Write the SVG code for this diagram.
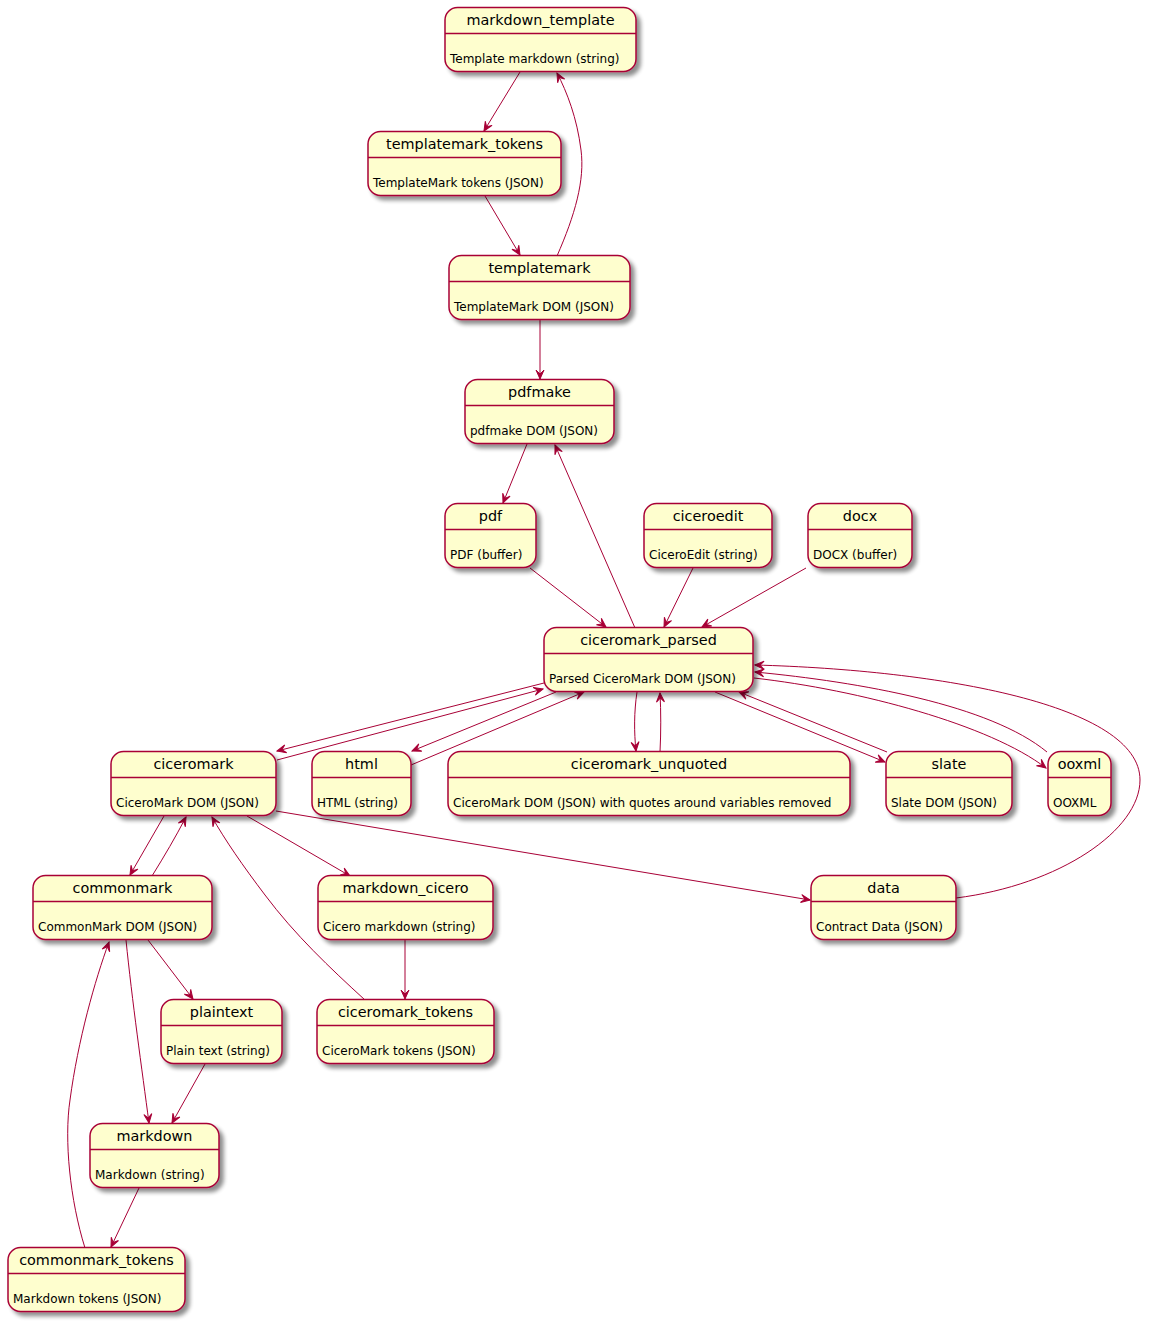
<svg xmlns="http://www.w3.org/2000/svg" width="1153" height="1324" viewBox="0 0 1153 1324">
<style>
.box{fill:#FEFECE;stroke:#A80036;stroke-width:1.5;filter:url(#sh)}
.sep{stroke:#A80036;stroke-width:1.5}
.t{font-family:"DejaVu Sans",Verdana,sans-serif;font-size:14.4px;fill:#000;text-anchor:middle}
.b{font-family:"DejaVu Sans",Verdana,sans-serif;font-size:12px;fill:#000}
.e{fill:none;stroke:#A80036;stroke-width:1;marker-end:url(#ah)}
</style>
<defs>
<filter id="sh" x="-20%" y="-20%" width="150%" height="160%">
<feGaussianBlur in="SourceAlpha" stdDeviation="2"/>
<feOffset dx="4" dy="4" result="o"/>
<feComponentTransfer><feFuncA type="linear" slope="0.45"/></feComponentTransfer>
<feMerge><feMergeNode/><feMergeNode in="SourceGraphic"/></feMerge>
</filter>
<marker id="ah" markerUnits="userSpaceOnUse" viewBox="-10 -5 11 10" refX="0" refY="0" markerWidth="11" markerHeight="10" orient="auto">
<path d="M0,0 L-9,-4 L-5,0 L-9,4 Z" fill="#A80036" stroke="#A80036" stroke-width="1"/>
</marker>
</defs>
<rect width="1153" height="1324" fill="#FFFFFF"/>

<g id="connectors">
<path class="e" d="M520,72 L484,131"/>
<path class="e" d="M485,196 L520,255"/>
<path class="e" d="M557,256 C575,215 585,180 581,150 C577,118 567,92 557,73"/>
<path class="e" d="M540,320 L540,379"/>
<path class="e" d="M527,444 L503,503"/>
<path class="e" d="M635,628 L555,445"/>
<path class="e" d="M530,568 L606,627"/>
<path class="e" d="M693,568 L664,627"/>
<path class="e" d="M806,568 L702,627"/>
<path class="e" d="M544,683 L277,751"/>
<path class="e" d="M277,760 L543,689"/>
<path class="e" d="M556,692 L412,751"/>
<path class="e" d="M411,765 L584,692"/>
<path class="e" d="M637,692 C634,712 634,732 636,751"/>
<path class="e" d="M660,752 C661,732 661,712 660,693"/>
<path class="e" d="M715,692 L885,762"/>
<path class="e" d="M887,752 L739,692"/>
<path class="e" d="M754,678 C860,690 990,725 1046,768"/>
<path class="e" d="M1047,752 C990,705 860,682 755,672"/>
<path class="e" d="M956,898 C1060,885 1140,830 1140,780 C1140,705 940,670 755,665"/>
<path class="e" d="M164,816 L130,875"/>
<path class="e" d="M152,876 C165,855 175,838 186,817"/>
<path class="e" d="M365,1000 C330,968 295,935 265,895 C243,866 225,840 212,817"/>
<path class="e" d="M247,816 L350,876"/>
<path class="e" d="M276,811 L810,900"/>
<path class="e" d="M405,940 L405,999"/>
<path class="e" d="M148,940 L193,999"/>
<path class="e" d="M126,940 C132,1000 142,1070 149,1123"/>
<path class="e" d="M205,1064 L172,1123"/>
<path class="e" d="M139,1188 L111,1247"/>
<path class="e" d="M85,1248 C70,1200 64,1140 70,1100 C78,1040 95,980 109,942"/>
</g>

<g id="markdown_template"><rect class="box" x="445" y="7.5" width="191" height="64" rx="12.5"/><line class="sep" x1="445" y1="33.5" x2="636" y2="33.5"/><text class="t" x="540.5" y="25">markdown_template</text><text class="b" x="450" y="63">Template markdown (string)</text></g>
<g id="templatemark_tokens"><rect class="box" x="368" y="131.5" width="193" height="64" rx="12.5"/><line class="sep" x1="368" y1="157.5" x2="561" y2="157.5"/><text class="t" x="464.5" y="149">templatemark_tokens</text><text class="b" x="373" y="187">TemplateMark tokens (JSON)</text></g>
<g id="templatemark"><rect class="box" x="449" y="255.5" width="181" height="64" rx="12.5"/><line class="sep" x1="449" y1="281.5" x2="630" y2="281.5"/><text class="t" x="539.5" y="273">templatemark</text><text class="b" x="454" y="311">TemplateMark DOM (JSON)</text></g>
<g id="pdfmake"><rect class="box" x="465" y="379.5" width="149" height="64" rx="12.5"/><line class="sep" x1="465" y1="405.5" x2="614" y2="405.5"/><text class="t" x="539.5" y="397">pdfmake</text><text class="b" x="470" y="435">pdfmake DOM (JSON)</text></g>
<g id="pdf"><rect class="box" x="445" y="503.5" width="91" height="64" rx="12.5"/><line class="sep" x1="445" y1="529.5" x2="536" y2="529.5"/><text class="t" x="490.5" y="521">pdf</text><text class="b" x="450" y="559">PDF (buffer)</text></g>
<g id="ciceroedit"><rect class="box" x="644" y="503.5" width="128" height="64" rx="12.5"/><line class="sep" x1="644" y1="529.5" x2="772" y2="529.5"/><text class="t" x="708" y="521">ciceroedit</text><text class="b" x="649" y="559">CiceroEdit (string)</text></g>
<g id="docx"><rect class="box" x="808" y="503.5" width="104" height="64" rx="12.5"/><line class="sep" x1="808" y1="529.5" x2="912" y2="529.5"/><text class="t" x="860" y="521">docx</text><text class="b" x="813" y="559">DOCX (buffer)</text></g>
<g id="ciceromark_parsed"><rect class="box" x="544" y="627.5" width="209" height="64" rx="12.5"/><line class="sep" x1="544" y1="653.5" x2="753" y2="653.5"/><text class="t" x="648.5" y="645">ciceromark_parsed</text><text class="b" x="549" y="683">Parsed CiceroMark DOM (JSON)</text></g>
<g id="ciceromark"><rect class="box" x="111" y="751.5" width="165" height="64" rx="12.5"/><line class="sep" x1="111" y1="777.5" x2="276" y2="777.5"/><text class="t" x="193.5" y="769">ciceromark</text><text class="b" x="116" y="807">CiceroMark DOM (JSON)</text></g>
<g id="html"><rect class="box" x="312" y="751.5" width="99" height="64" rx="12.5"/><line class="sep" x1="312" y1="777.5" x2="411" y2="777.5"/><text class="t" x="361.5" y="769">html</text><text class="b" x="317" y="807">HTML (string)</text></g>
<g id="ciceromark_unquoted"><rect class="box" x="448" y="751.5" width="402" height="64" rx="12.5"/><line class="sep" x1="448" y1="777.5" x2="850" y2="777.5"/><text class="t" x="649" y="769">ciceromark_unquoted</text><text class="b" x="453" y="807">CiceroMark DOM (JSON) with quotes around variables removed</text></g>
<g id="slate"><rect class="box" x="886" y="751.5" width="126" height="64" rx="12.5"/><line class="sep" x1="886" y1="777.5" x2="1012" y2="777.5"/><text class="t" x="949" y="769">slate</text><text class="b" x="891" y="807">Slate DOM (JSON)</text></g>
<g id="ooxml"><rect class="box" x="1048" y="751.5" width="63" height="64" rx="12.5"/><line class="sep" x1="1048" y1="777.5" x2="1111" y2="777.5"/><text class="t" x="1079.5" y="769">ooxml</text><text class="b" x="1053" y="807">OOXML</text></g>
<g id="commonmark"><rect class="box" x="33" y="875.5" width="179" height="64" rx="12.5"/><line class="sep" x1="33" y1="901.5" x2="212" y2="901.5"/><text class="t" x="122.5" y="893">commonmark</text><text class="b" x="38" y="931">CommonMark DOM (JSON)</text></g>
<g id="markdown_cicero"><rect class="box" x="318" y="875.5" width="175" height="64" rx="12.5"/><line class="sep" x1="318" y1="901.5" x2="493" y2="901.5"/><text class="t" x="405.5" y="893">markdown_cicero</text><text class="b" x="323" y="931">Cicero markdown (string)</text></g>
<g id="data"><rect class="box" x="811" y="875.5" width="145" height="64" rx="12.5"/><line class="sep" x1="811" y1="901.5" x2="956" y2="901.5"/><text class="t" x="883.5" y="893">data</text><text class="b" x="816" y="931">Contract Data (JSON)</text></g>
<g id="plaintext"><rect class="box" x="161" y="999.5" width="121" height="64" rx="12.5"/><line class="sep" x1="161" y1="1025.5" x2="282" y2="1025.5"/><text class="t" x="221.5" y="1017">plaintext</text><text class="b" x="166" y="1055">Plain text (string)</text></g>
<g id="ciceromark_tokens"><rect class="box" x="317" y="999.5" width="177" height="64" rx="12.5"/><line class="sep" x1="317" y1="1025.5" x2="494" y2="1025.5"/><text class="t" x="405.5" y="1017">ciceromark_tokens</text><text class="b" x="322" y="1055">CiceroMark tokens (JSON)</text></g>
<g id="markdown"><rect class="box" x="90" y="1123.5" width="129" height="64" rx="12.5"/><line class="sep" x1="90" y1="1149.5" x2="219" y2="1149.5"/><text class="t" x="154.5" y="1141">markdown</text><text class="b" x="95" y="1179">Markdown (string)</text></g>
<g id="commonmark_tokens"><rect class="box" x="8" y="1247.5" width="177" height="64" rx="12.5"/><line class="sep" x1="8" y1="1273.5" x2="185" y2="1273.5"/><text class="t" x="96.5" y="1265">commonmark_tokens</text><text class="b" x="13" y="1303">Markdown tokens (JSON)</text></g>
</svg>
